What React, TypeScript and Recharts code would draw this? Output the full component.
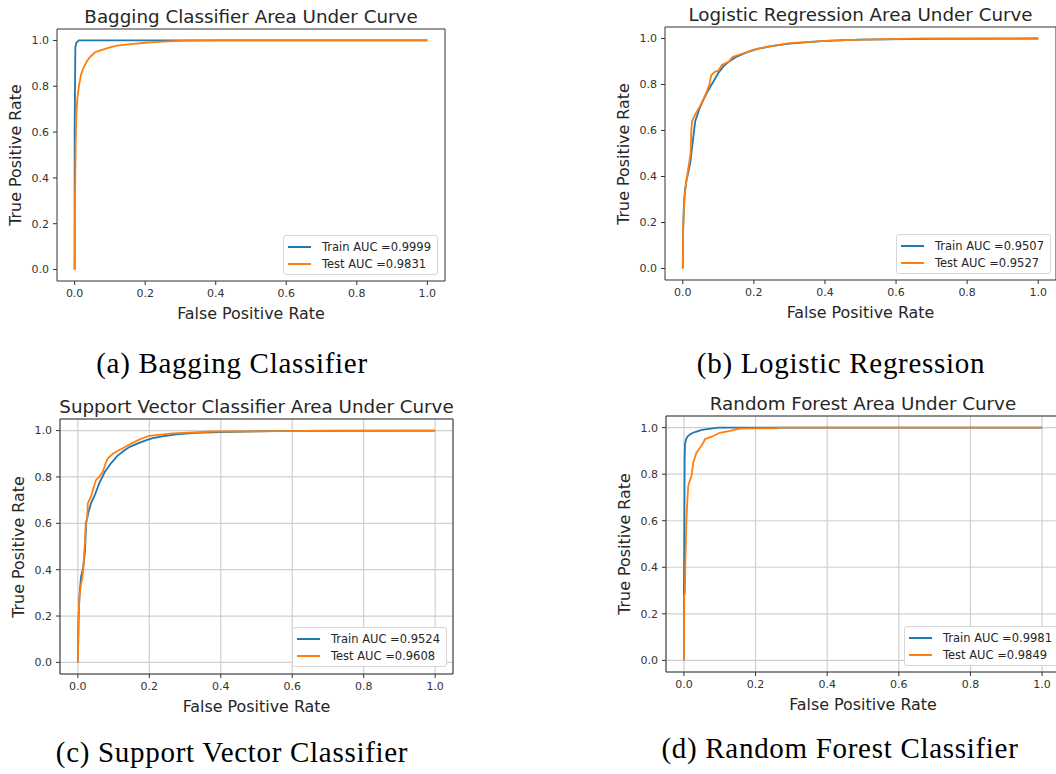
import { LineChart, Line, XAxis, YAxis, CartesianGrid, ReferenceLine, Legend } from "recharts";

// ROC curves (fpr / tpr pairs)
const baggingTrainFpr = [0, 0, 0.002, 0.005, 0.012, 1];
const baggingTrainTpr = [0, 0.6, 0.97, 0.99, 1, 1];
const baggingTestFpr = [0, 0.001, 0.003, 0.005, 0.008, 0.012, 0.018, 0.025, 0.035, 0.045, 0.06, 0.08, 0.1, 0.12, 0.16, 0.2, 0.25, 0.3, 0.4, 1];
const baggingTestTpr = [0, 0.3, 0.55, 0.68, 0.75, 0.8, 0.85, 0.88, 0.91, 0.93, 0.95, 0.96, 0.97, 0.977, 0.984, 0.99, 0.995, 0.998, 1, 1];

const logisticTrainFpr = [0, 0.001, 0.003, 0.006, 0.01, 0.016, 0.022, 0.028, 0.035, 0.048, 0.06, 0.07, 0.085, 0.1, 0.115, 0.13, 0.15, 0.18, 0.21, 0.25, 0.3, 0.4, 0.5, 0.7, 1];
const logisticTrainTpr = [0, 0.17, 0.27, 0.34, 0.38, 0.42, 0.47, 0.55, 0.64, 0.7, 0.74, 0.77, 0.81, 0.85, 0.88, 0.9, 0.92, 0.94, 0.955, 0.967, 0.978, 0.99, 0.995, 0.998, 1];
const logisticTestFpr = [0, 0.001, 0.003, 0.006, 0.012, 0.018, 0.022, 0.024, 0.026, 0.035, 0.05, 0.065, 0.075, 0.08, 0.09, 0.1, 0.11, 0.13, 0.14, 0.17, 0.2, 0.24, 0.3, 0.4, 0.5, 0.68, 1];
const logisticTestTpr = [0, 0.17, 0.25, 0.33, 0.4, 0.46, 0.5, 0.6, 0.64, 0.67, 0.71, 0.76, 0.8, 0.84, 0.855, 0.86, 0.885, 0.9, 0.92, 0.935, 0.952, 0.965, 0.98, 0.99, 0.995, 1, 1];

const svcTrainFpr = [0, 0.002, 0.005, 0.009, 0.015, 0.02, 0.023, 0.03, 0.037, 0.047, 0.06, 0.075, 0.093, 0.11, 0.126, 0.145, 0.168, 0.19, 0.21, 0.24, 0.276, 0.33, 0.4, 0.5, 0.6, 1];
const svcTrainTpr = [0, 0.2, 0.3, 0.37, 0.41, 0.48, 0.6, 0.65, 0.687, 0.72, 0.773, 0.82, 0.86, 0.89, 0.91, 0.93, 0.945, 0.958, 0.967, 0.976, 0.984, 0.99, 0.994, 0.997, 0.999, 1];
const svcTestFpr = [0, 0.002, 0.004, 0.008, 0.012, 0.015, 0.018, 0.02, 0.022, 0.026, 0.028, 0.037, 0.045, 0.051, 0.06, 0.07, 0.078, 0.084, 0.098, 0.11, 0.126, 0.15, 0.18, 0.2, 0.266, 0.38, 0.5, 0.7, 1];
const svcTestTpr = [0, 0.18, 0.28, 0.33, 0.36, 0.4, 0.48, 0.52, 0.6, 0.62, 0.687, 0.716, 0.76, 0.787, 0.8, 0.823, 0.86, 0.88, 0.9, 0.912, 0.924, 0.945, 0.967, 0.977, 0.988, 0.996, 0.997, 1, 1];

const forestTrainFpr = [0, 0, 0.001, 0.002, 0.003, 0.006, 0.01, 0.017, 0.025, 0.035, 0.05, 0.06, 0.08, 0.096, 1];
const forestTrainTpr = [0, 0.28, 0.5, 0.86, 0.928, 0.95, 0.962, 0.971, 0.978, 0.983, 0.99, 0.993, 0.997, 1, 1];
const forestTestFpr = [0, 0.001, 0.003, 0.004, 0.007, 0.009, 0.012, 0.016, 0.021, 0.026, 0.035, 0.045, 0.052, 0.059, 0.07, 0.082, 0.1, 0.129, 0.157, 0.2, 0.26, 0.26, 1];
const forestTestTpr = [0, 0.28, 0.29, 0.42, 0.6, 0.67, 0.749, 0.77, 0.792, 0.849, 0.892, 0.914, 0.93, 0.95, 0.957, 0.964, 0.978, 0.986, 0.996, 0.997, 0.997, 1, 1];

const tickValues = [0, 0.2, 0.4, 0.6, 0.8, 1.0];

const BLUE = "#1f77b4";
const ORANGE = "#ff7f0e";
const SPINE = "#333333";

const toPoints = (fpr: number[], tpr: number[]) => fpr.map((x, i) => ({ fpr: x, tpr: tpr[i] }));

type Box = { l: number; t: number; r: number; b: number };

interface PanelProps {
  box: Box;
  title: string;
  caption: string;
  captionX: number;
  captionY: number;
  trainLabel: string;
  testLabel: string;
  train: { fpr: number; tpr: number }[];
  test: { fpr: number; tpr: number }[];
  grid: boolean;
  legendRight: number;
  legendBottom: number;
}

const LegendBox = (props: any) => {
  // train first, test second (same as plotting order)
  const items = [...(props.payload || [])].sort((a: any, b: any) => (a.color === BLUE ? -1 : 0) - (b.color === BLUE ? -1 : 0));
  return (
    <div
      style={{
        background: "#fff",
        border: "1px solid #d6d6d6",
        borderRadius: 3,
        padding: "2px 6px 2px 4px",
        fontSize: 11.5,
        color: "#262626",
        fontFamily: "DejaVu Sans",
      }}
    >
      {items.map((p: any) => (
        <div key={p.value} style={{ display: "flex", alignItems: "center", height: 17 }}>
          <span style={{ display: "inline-block", width: 23, height: 2, background: p.color, marginRight: 11 }} />
          <span style={{ whiteSpace: "nowrap" }}>{p.value}</span>
        </div>
      ))}
    </div>
  );
};

const Panel = ({ box, title, caption, captionX, captionY, trainLabel, testLabel, train, test, grid, legendRight, legendBottom }: PanelProps) => {
  const left = box.l - 60;
  const top = box.t - 4;
  const width = box.r - box.l + 64;
  const height = box.b - box.t + 54;
  const cx = (box.l + box.r) / 2;
  const cy = (box.t + box.b) / 2;
  return (
    <>
      <div style={{ position: "absolute", left: cx, top: box.t - 13, transform: "translate(-50%, -50%)", fontSize: 18.3, color: "#262626", whiteSpace: "nowrap" }}>
        {title}
      </div>
      <div style={{ position: "absolute", left, top }}>
        <LineChart width={width} height={height} margin={{ top: 4, right: 4, left: 0, bottom: 0 }}>
          {grid && <CartesianGrid stroke="#cfcfcf" strokeWidth={1.2} />}
          <XAxis
            dataKey="fpr"
            type="number"
            domain={[-0.05, 1.05]}
            allowDataOverflow
            ticks={tickValues}
            tickFormatter={(v: number) => v.toFixed(1)}
            height={50}
            tickSize={4}
            tickMargin={4}
            stroke={SPINE}
            tick={{ fontSize: 11, fill: "#333" }}
          />
          <YAxis
            dataKey="tpr"
            type="number"
            domain={[-0.05, 1.05]}
            allowDataOverflow
            ticks={tickValues}
            tickFormatter={(v: number) => v.toFixed(1)}
            width={60}
            tickSize={4}
            tickMargin={4}
            stroke={SPINE}
            tick={{ fontSize: 11, fill: "#333" }}
          />
          <ReferenceLine y={1.05} stroke={SPINE} />
          <ReferenceLine x={1.05} stroke={SPINE} />
          <Line data={train} dataKey="tpr" name={trainLabel} type="linear" stroke={BLUE} strokeWidth={1.8} dot={false} isAnimationActive={false} />
          <Line data={test} dataKey="tpr" name={testLabel} type="linear" stroke={ORANGE} strokeWidth={1.8} dot={false} isAnimationActive={false} />
          <Legend
            layout="vertical"
            align="center"
            verticalAlign="middle"
            content={LegendBox}
            wrapperStyle={{ left: "auto", top: "auto", right: 4 + legendRight, bottom: 50 + legendBottom, width: "auto" }}
          />
        </LineChart>
      </div>
      <div style={{ position: "absolute", left: cx, top: box.b + 32, transform: "translate(-50%, -50%)", fontSize: 15.9, color: "#262626", whiteSpace: "nowrap" }}>
        False Positive Rate
      </div>
      <div style={{ position: "absolute", left: box.l - 42, top: cy, transform: "translate(-50%, -50%) rotate(-90deg)", fontSize: 15.9, color: "#262626", whiteSpace: "nowrap" }}>
        True Positive Rate
      </div>
      <div style={{ position: "absolute", left: captionX, top: captionY, transform: "translate(-50%, -50%)", fontFamily: "Liberation Serif", fontSize: 29, letterSpacing: 0.7, color: "#000", whiteSpace: "nowrap" }}>
        {caption}
      </div>
    </>
  );
};

export default function App() {
  return (
    <div style={{ position: "absolute", left: 0, top: 0, width: 1056, height: 774, overflow: "hidden", background: "#fff", fontFamily: "DejaVu Sans" }}>
      <Panel
        box={{ l: 57, t: 29, r: 445, b: 281 }}
        title="Bagging Classifier Area Under Curve"
        caption="(a) Bagging Classifier"
        captionX={232}
        captionY={363}
        trainLabel="Train AUC =0.9999"
        testLabel="Test AUC =0.9831"
        train={toPoints(baggingTrainFpr, baggingTrainTpr)}
        test={toPoints(baggingTestFpr, baggingTestTpr)}
        grid={false}
        legendRight={7}
        legendBottom={6}
      />
      <Panel
        box={{ l: 665, t: 27, r: 1056, b: 280 }}
        title="Logistic Regression Area Under Curve"
        caption="(b) Logistic Regression"
        captionX={841}
        captionY={363}
        trainLabel="Train AUC =0.9507"
        testLabel="Test AUC =0.9527"
        train={toPoints(logisticTrainFpr, logisticTrainTpr)}
        test={toPoints(logisticTestFpr, logisticTestTpr)}
        grid={false}
        legendRight={5}
        legendBottom={6}
      />
      <Panel
        box={{ l: 60, t: 419, r: 453, b: 674 }}
        title="Support Vector Classifier Area Under Curve"
        caption="(c) Support Vector Classifier"
        captionX={232}
        captionY={752}
        trainLabel="Train AUC =0.9524"
        testLabel="Test AUC =0.9608"
        train={toPoints(svcTrainFpr, svcTrainTpr)}
        test={toPoints(svcTestFpr, svcTestTpr)}
        grid={true}
        legendRight={6}
        legendBottom={7}
      />
      <Panel
        box={{ l: 666, t: 416, r: 1060, b: 672 }}
        title="Random Forest Area Under Curve"
        caption="(d) Random Forest Classifier"
        captionX={840}
        captionY={748}
        trainLabel="Train AUC =0.9981"
        testLabel="Test AUC =0.9849"
        train={toPoints(forestTrainFpr, forestTrainTpr)}
        test={toPoints(forestTestFpr, forestTestTpr)}
        grid={true}
        legendRight={1}
        legendBottom={6}
      />
    </div>
  );
}
